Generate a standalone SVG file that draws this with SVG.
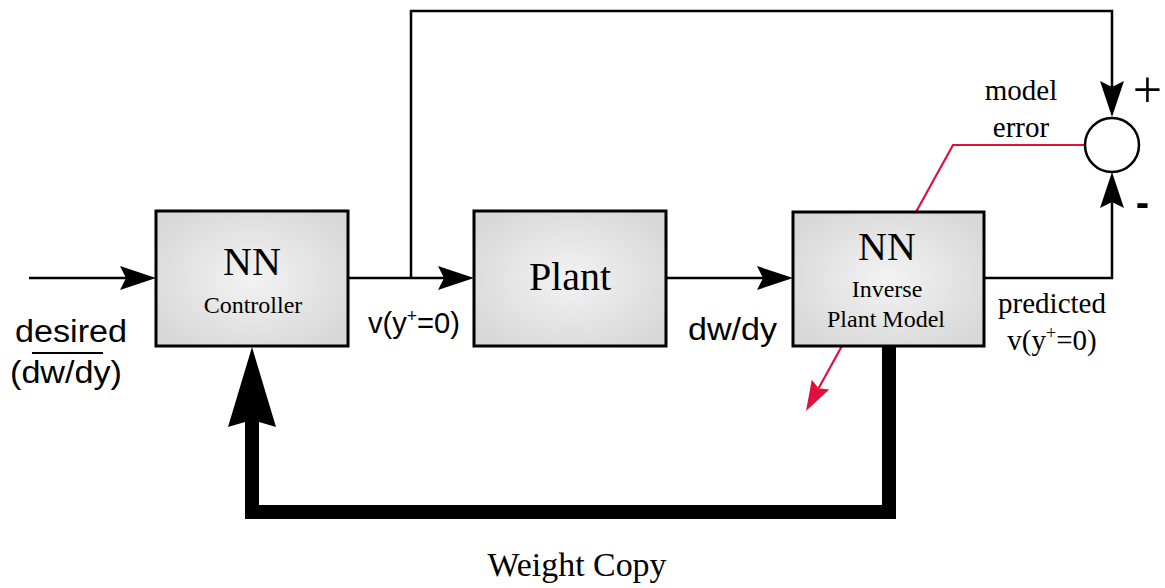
<svg xmlns="http://www.w3.org/2000/svg" width="1165" height="588" viewBox="0 0 1165 588">
  <style>
    .box { stroke: #000; stroke-width: 3; fill: url(#boxFill); }
    .wire { fill: none; stroke: #000; stroke-width: 2.5; }
    .err { fill: none; stroke: #e0103c; stroke-width: 2.2; }
    .thick { fill: none; stroke: #000; stroke-width: 14; stroke-linejoin: miter; }
    .serif { font-family: "Liberation Serif", "Times New Roman", serif; fill: #000; }
    .sans { font-family: "Liberation Sans", Arial, sans-serif; fill: #000; }
  </style>
  <defs>
    <radialGradient id="boxFill" cx="50%" cy="50%" r="60%">
      <stop offset="0" stop-color="#f3f3f3"/>
      <stop offset="1" stop-color="#d8d8d8"/>
    </radialGradient>
    <marker id="ah" markerUnits="userSpaceOnUse" viewBox="-8 -13 40 26" markerWidth="40" markerHeight="26" refX="0" refY="0" orient="auto">
      <path d="M30,0 L-6,-12 L0,0 L-6,12 Z" fill="#000"/>
    </marker>
    <marker id="ahRed" markerUnits="userSpaceOnUse" viewBox="-6 -11 34 22" markerWidth="34" markerHeight="22" refX="0" refY="0" orient="auto">
      <path d="M26,0 L-4,-10 L0,0 L-4,10 Z" fill="#e0103c"/>
    </marker>
  </defs>

  <!-- signal lines -->
  <g id="connectors">
    <path class="wire" d="M29,278 H126" marker-end="url(#ah)"/>
    <path class="wire" d="M348,278 H444" marker-end="url(#ah)"/>
    <path class="wire" d="M666,278 H763" marker-end="url(#ah)"/>
    <path class="wire" d="M411,278 V11 H1112 V87" marker-end="url(#ah)"/>
    <path class="wire" d="M984,278 H1112 V202" marker-end="url(#ah)"/>
    <path class="err" d="M1085,145 H953 L818.6,388.2" marker-end="url(#ahRed)"/>
    <!-- weight copy path -->
    <path class="thick" d="M889,346 V512 H252 V418"/>
    <path d="M252,347 L276,427 L252,420 L228,427 Z" fill="#000"/>
  </g>

  <g id="controller">
    <rect class="box" x="156" y="211" width="192" height="135"/>
    <text class="serif" x="252" y="275" font-size="40" text-anchor="middle">NN</text>
    <text class="serif" x="253" y="313" font-size="24" text-anchor="middle">Controller</text>
  </g>

  <g id="plant">
    <rect class="box" x="474" y="211" width="192" height="135"/>
    <text class="serif" x="570" y="290" font-size="40" text-anchor="middle">Plant</text>
  </g>

  <g id="inverse-model">
    <rect class="box" x="793" y="212" width="191" height="134"/>
    <text class="serif" x="887" y="260" font-size="40" text-anchor="middle">NN</text>
    <text class="serif" x="887" y="297" font-size="24" text-anchor="middle">Inverse</text>
    <text class="serif" x="886" y="327" font-size="24" text-anchor="middle">Plant Model</text>
  </g>

  <g id="summer">
    <circle cx="1112" cy="145" r="27" fill="#fff" stroke="#000" stroke-width="2.5"/>
    <text class="serif" x="1147.5" y="107" font-size="52" font-weight="300" text-anchor="middle">+</text>
    <text class="sans" x="1142.5" y="216" font-size="40" font-weight="bold" text-anchor="middle">-</text>
  </g>

  <g id="labels">
    <text class="sans" x="15" y="342" font-size="31" textLength="112" lengthAdjust="spacingAndGlyphs">desired</text>
    <line x1="32" y1="353" x2="103" y2="353" stroke="#000" stroke-width="2"/>
    <text class="sans" x="10" y="383" font-size="31" textLength="112" lengthAdjust="spacingAndGlyphs">(dw/dy)</text>
    <text class="sans" x="368" y="333" font-size="30" textLength="92" lengthAdjust="spacingAndGlyphs">v(y<tspan font-size="18" dy="-11">+</tspan><tspan dy="11">=0)</tspan></text>
    <text class="sans" x="688" y="340" font-size="31" textLength="89" lengthAdjust="spacingAndGlyphs">dw/dy</text>
    <text class="serif" x="1021" y="100" font-size="29" text-anchor="middle">model</text>
    <text class="serif" x="1021" y="137" font-size="29" text-anchor="middle">error</text>
    <text class="serif" x="1052" y="313" font-size="29" text-anchor="middle">predicted</text>
    <text class="serif" x="1052" y="350" font-size="29" text-anchor="middle">v(y<tspan font-size="18" dy="-11">+</tspan><tspan dy="11">=0)</tspan></text>
    <text class="serif" x="577" y="576" font-size="33" text-anchor="middle" textLength="179" lengthAdjust="spacingAndGlyphs">Weight Copy</text>
  </g>
</svg>
